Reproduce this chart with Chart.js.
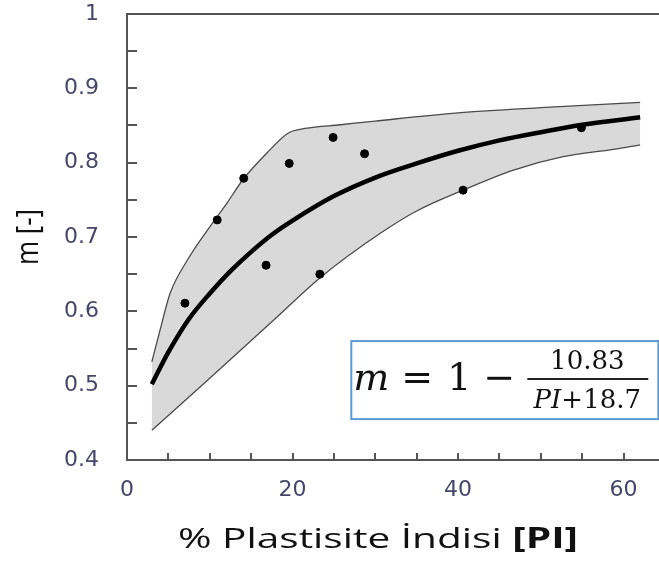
<!DOCTYPE html>
<html>
<head>
<meta charset="utf-8">
<script src="https://cdn.jsdelivr.net/npm/chart.js@4"></script>
<style>
  html, body { margin: 0; padding: 0; background: #fff; overflow: hidden; }
  #wrap { width: 670px; height: 565px; }
</style>
</head>
<body>
<div id="wrap"><canvas id="grafico"></canvas></div>
<script>
    // ölçüm noktaları
    const noktaX = [7.0, 10.9, 14.1, 16.8, 19.6, 23.3, 24.9, 28.7, 40.6, 54.9];
    const noktaY = [0.611, 0.723, 0.779, 0.662, 0.799, 0.650, 0.834, 0.812, 0.763, 0.847];

    // ortalama eğri
    const ortX = [3, 5, 7.5, 10, 12.5, 15, 17.5, 20, 25, 30, 35, 40, 45, 50, 55, 62];
    const ortY = [0.502, 0.545, 0.590, 0.624, 0.654, 0.680, 0.703, 0.722, 0.755, 0.780, 0.799, 0.816, 0.830, 0.841, 0.851, 0.861];

    // bant üst sınırı
    const ustX = [3, 4, 5.2, 7.3, 9.7, 12.1, 14, 16.9, 19.5, 21.5, 25.8, 30, 40, 50, 62];
    const ustY = [0.532, 0.575, 0.624, 0.669, 0.709, 0.746, 0.777, 0.813, 0.840, 0.846, 0.851, 0.856, 0.867, 0.874, 0.881];

    // bant alt sınırı
    const altX = [3, 9.7, 17.7, 23.3, 30.6, 35, 40.6, 46.7, 52.7, 58.8, 62];
    const altY = [0.440, 0.507, 0.588, 0.645, 0.705, 0.735, 0.763, 0.790, 0.808, 0.818, 0.824];

    const xTicks = [0, 20, 40, 60];
    const yTicks = [0.4, 0.5, 0.6, 0.7, 0.8, 0.9, 1];

    const eksenRengi = '#555555';
    const etiketRengi = '#46466a';

    const ikili = (xs, ys) => xs.map((x, i) => ({ x, y: ys[i] }));

    const ekstralar = {
        id: 'ekstralar',
        afterDraw(chart) {
            const ctx = chart.ctx;
            const { left, right, top, bottom } = chart.chartArea;
            const sx = chart.scales.x;
            const sy = chart.scales.y;

            ctx.save();
            ctx.strokeStyle = eksenRengi;
            ctx.lineWidth = 2;
            // üst çerçeve
            ctx.beginPath();
            ctx.moveTo(left, top);
            ctx.lineTo(right, top);
            ctx.stroke();

            // içe doğru tik çizgileri
            ctx.beginPath();
            for (let v = 0.4; v <= 1.0001; v += 0.05) {
                const py = Math.round(sy.getPixelForValue(v));
                ctx.moveTo(left, py);
                ctx.lineTo(left + 10, py);
            }
            for (let v = 0; v <= sx.max; v += 5) {
                const px = Math.round(sx.getPixelForValue(v));
                ctx.moveTo(px, bottom);
                ctx.lineTo(px, bottom - 7);
            }
            ctx.stroke();

            // denklem kutusu
            const bx0 = sx.getPixelForValue(27.1);
            const bx1 = sx.getPixelForValue(64.2);
            const by0 = sy.getPixelForValue(0.560);
            const by1 = sy.getPixelForValue(0.455);
            ctx.fillStyle = '#fff';
            ctx.fillRect(bx0, by0, bx1 - bx0, by1 - by0);
            ctx.strokeStyle = '#5b9bd5';
            ctx.lineWidth = 2;
            ctx.strokeRect(bx0, by0, bx1 - bx0, by1 - by0);

            ctx.fillStyle = '#111';
            ctx.textBaseline = 'alphabetic';
            ctx.textAlign = 'left';
            let cx = bx0 + 2;
            const taban = by0 + 49;
            ctx.font = 'italic 38px "DejaVu Serif"';
            ctx.fillText('m', cx, taban);
            cx += ctx.measureText('m').width + 12;
            ctx.font = '38px "DejaVu Serif"';
            ctx.fillText('=', cx, taban);
            cx += ctx.measureText('=').width + 14;
            ctx.fillText('1', cx, taban);
            cx += ctx.measureText('1').width + 12;
            ctx.fillText('\u2212', cx, taban);

            const kesirOrta = bx0 + 236;
            ctx.lineWidth = 2;
            ctx.strokeStyle = '#222';
            ctx.beginPath();
            ctx.moveTo(bx0 + 176, by0 + 38);
            ctx.lineTo(bx0 + 297, by0 + 38);
            ctx.stroke();

            ctx.font = '26px "DejaVu Serif"';
            ctx.textAlign = 'center';
            ctx.fillText('10.83', kesirOrta, by0 + 28);
            ctx.textAlign = 'left';
            ctx.font = 'italic 26px "DejaVu Serif"';
            const wPI = ctx.measureText('PI').width;
            ctx.font = '26px "DejaVu Serif"';
            const wRest = ctx.measureText('+18.7').width;
            const dx = kesirOrta - (wPI + wRest) / 2;
            ctx.font = 'italic 26px "DejaVu Serif"';
            ctx.fillText('PI', dx, by0 + 67);
            ctx.font = '26px "DejaVu Serif"';
            ctx.fillText('+18.7', dx + wPI, by0 + 67);

            // x ekseni başlığı (yatayda biraz geniş)
            ctx.save();
            ctx.fillStyle = '#111';
            const gen = 1.45;
            ctx.font = '28px "Open Sans"';
            const t1 = '% Plastisite \u0130ndisi ';
            const w1 = ctx.measureText(t1).width;
            ctx.font = 'bold 28px "Open Sans"';
            const t2 = '[PI]';
            const w2 = ctx.measureText(t2).width;
            ctx.translate(378 - (w1 + w2) * gen / 2, 548);
            ctx.scale(gen, 1);
            ctx.font = '28px "Open Sans"';
            ctx.fillText(t1, 0, 0);
            ctx.font = 'bold 28px "Open Sans"';
            ctx.fillText(t2, w1, 0);
            ctx.restore();

            // y ekseni başlığı
            ctx.translate(29, 237);
            ctx.rotate(-Math.PI / 2);
            ctx.scale(1, 1.2);
            ctx.fillStyle = '#111';
            ctx.font = '26px "Open Sans"';
            ctx.textAlign = 'center';
            ctx.textBaseline = 'middle';
            ctx.fillText('m [-]', 0, 0);
            ctx.restore();
        }
    };

    function grafikCiz() {
        new Chart(document.getElementById('grafico'), {
            type: 'scatter',
            data: {
                datasets: [
                    {
                        label: 'Ölçüm',
                        data: ikili(noktaX, noktaY),
                        backgroundColor: '#000',
                        borderColor: '#000',
                        pointRadius: 4,
                        showLine: false
                    },
                    {
                        label: 'Ortalama',
                        data: ikili(ortX, ortY),
                        showLine: true,
                        borderColor: '#000',
                        borderWidth: 4.5,
                        pointRadius: 0,
                        cubicInterpolationMode: 'monotone',
                        fill: false
                    },
                    {
                        label: 'Üst sınır',
                        data: ikili(ustX, ustY),
                        showLine: true,
                        borderColor: '#4a4a4a',
                        borderWidth: 1.3,
                        pointRadius: 0,
                        cubicInterpolationMode: 'monotone',
                        backgroundColor: '#d9d9d9',
                        fill: '+1'
                    },
                    {
                        label: 'Alt sınır',
                        data: ikili(altX, altY),
                        showLine: true,
                        borderColor: '#4a4a4a',
                        borderWidth: 1.3,
                        pointRadius: 0,
                        cubicInterpolationMode: 'monotone',
                        fill: false
                    }
                ]
            },
            options: {
                responsive: true,
                maintainAspectRatio: false,
                animation: false,
                layout: { padding: { top: 14, right: 5, left: 0, bottom: 0 } },
                plugins: {
                    legend: { display: false },
                    tooltip: { enabled: false },
                    filler: { drawTime: 'beforeDatasetsDraw' }
                },
                scales: {
                    x: {
                        type: 'linear',
                        min: 0,
                        max: 65,
                        afterFit(scale) {
                            scale.height = 105;
                            scale.paddingLeft = 0;
                            scale.paddingRight = 0;
                        },
                        afterBuildTicks(scale) { scale.ticks = xTicks.map(v => ({ value: v })); },
                        grid: { display: false, drawTicks: false },
                        border: { display: true, color: eksenRengi, width: 2 },
                        ticks: {
                            padding: 17,
                            color: etiketRengi,
                            font: { family: 'DejaVu Sans', size: 22 },
                            maxRotation: 0
                        }
                    },
                    y: {
                        min: 0.4,
                        max: 1,
                        afterFit(scale) {
                            scale.width = 127;
                            scale.paddingTop = 0;
                            scale.paddingBottom = 0;
                        },
                        afterBuildTicks(scale) { scale.ticks = yTicks.map(v => ({ value: v })); },
                        grid: { display: false, drawTicks: false },
                        border: { display: true, color: eksenRengi, width: 2 },
                        ticks: {
                            padding: 28,
                            color: etiketRengi,
                            font: { family: 'DejaVu Sans', size: 22 },
                            callback: (v) => String(Math.round(v * 10) / 10)
                        }
                    }
                }
            },
            plugins: [ekstralar]
        });
    }

    document.addEventListener('DOMContentLoaded', () => {
        grafikCiz();
    });
</script>
</body>
</html>
